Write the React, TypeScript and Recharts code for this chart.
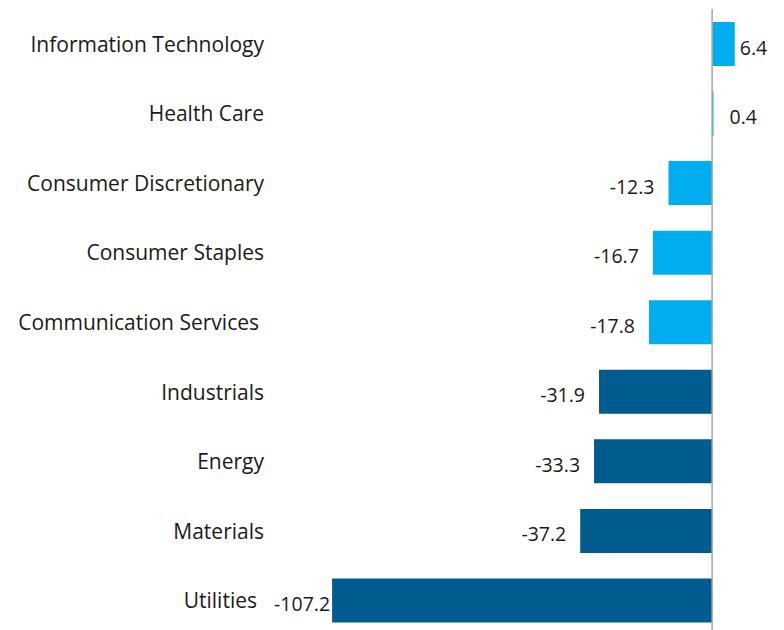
import React from "react";
import { BarChart, Bar, XAxis, YAxis, Cell, LabelList, ReferenceLine } from "recharts";

const sectors = [
  "Information Technology",
  "Health Care",
  "Consumer Discretionary",
  "Consumer Staples",
  "Communication Services",
  "Industrials",
  "Energy",
  "Materials",
  "Utilities",
];
const values = [6.4, 0.4, -12.3, -16.7, -17.8, -31.9, -33.3, -37.2, -107.2];

const data = sectors.map((name, i) => ({ name, value: values[i] }));

const LIGHT = "#00AEEF";
const DARK = "#005B8F";
const FONT = "'Open Sans', 'Liberation Sans', sans-serif";

const ValueLabel = (props: any) => {
  const { x, y, width, height, value } = props;
  const a = Number(x);
  const b = Number(x) + Number(width);
  const cy = Number(y) + Number(height) / 2 + 3;
  if (value >= 0) {
    const end = Math.max(a, b);
    const off = value < 1 ? 16 : 5;
    return (
      <text x={end + off} y={cy} textAnchor="start" dominantBaseline="central" fontSize={19.5} fontFamily={FONT} fill="#1a1a1a">
        {value}
      </text>
    );
  }
  const end = Math.min(a, b);
  const off = value < -100 ? 2 : 14;
  return (
    <text x={end - off} y={cy} textAnchor="end" dominantBaseline="central" fontSize={19.5} fontFamily={FONT} fill="#1a1a1a">
      {value}
    </text>
  );
};

const CategoryTick = (props: any) => {
  const { x, y, payload } = props;
  const v = String(payload.value);
  const shift = v === "Utilities" ? 7 : v === "Communication Services" ? 5 : 0;
  return (
    <text x={Number(x) - shift} y={Number(y)} textAnchor="end" dominantBaseline="central" fontSize={21} fontFamily={FONT} fill="#1a1a1a">
      {v}
    </text>
  );
};

export default function App() {
  return (
    <div style={{ width: 784, height: 630, overflow: "hidden", background: "#fff" }}>
      <style>{`body{margin:0;overflow:hidden;}`}</style>
      <BarChart
        width={784}
        height={640}
        data={data}
        layout="vertical"
        margin={{ top: 9, right: 1, bottom: 5, left: 0 }}
        barSize={44}
      >
        <XAxis type="number" domain={[-125, 20]} hide />
        <YAxis
          type="category"
          dataKey="name"
          width={269}
          axisLine={false}
          tickLine={false}
          tickSize={0}
          tickMargin={5}
          tick={<CategoryTick />}
          interval={0}
        />
        <ReferenceLine x={0} stroke="#A6A6A6" strokeWidth={1.5} />
        <Bar dataKey="value" isAnimationActive={false}>
          {data.map((d, i) => (
            <Cell key={d.name} fill={i < 5 ? LIGHT : DARK} />
          ))}
          <LabelList dataKey="value" content={ValueLabel} />
        </Bar>
      </BarChart>
    </div>
  );
}
